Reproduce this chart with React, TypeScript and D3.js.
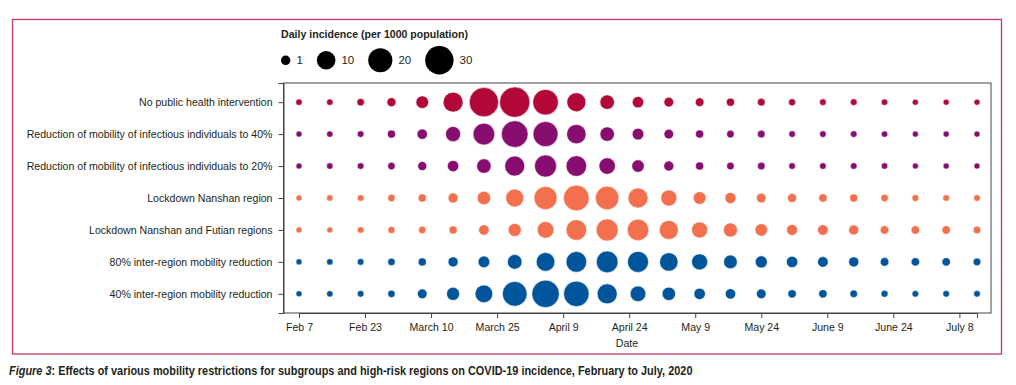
import React, { useEffect, useRef } from "react";
import * as d3 from "d3";

// scenario rows, top to bottom
const scenarios = [
  "No public health intervention",
  "Reduction of mobility of infectious individuals to 40%",
  "Reduction of mobility of infectious individuals to 20%",
  "Lockdown Nanshan region",
  "Lockdown Nanshan and Futian regions",
  "80% inter-region mobility reduction",
  "40% inter-region mobility reduction",
];

const scenarioColors = ["#B20838", "#870E6F", "#870E6F", "#F2704E", "#F2704E", "#00559B", "#00559B"];

// daily incidence per 1000, one value per week from Feb 7
const noIntervention = [0.08, 0.08, 0.27, 0.8, 3, 12, 32, 35, 23, 10.5, 4.7, 2.1, 1.1, 0.64, 0.44, 0.32, 0.18, 0.11, 0.11, 0.08, 0.04, 0.04, 0.04];
const mobility40 = [0.04, 0.08, 0.11, 0.44, 1.5, 5.4, 15, 25.5, 21.8, 11.2, 4.7, 2.3, 1.08, 0.44, 0.32, 0.32, 0.11, 0.11, 0.11, 0.08, 0.04, 0.04, 0.04];
const mobility20 = [0.04, 0.08, 0.11, 0.27, 0.8, 2.1, 4.7, 12.2, 15.7, 13.2, 7, 2.9, 1.28, 0.44, 0.32, 0.32, 0.11, 0.11, 0.11, 0.08, 0.04, 0.04, 0.04];
const lockdownNanshan = [0.04, 0.08, 0.11, 0.27, 0.44, 1.28, 3.7, 9.1, 17.7, 23.2, 18.5, 12.2, 6.5, 3.05, 1.87, 1.08, 0.8, 0.57, 0.44, 0.27, 0.14, 0.11, 0.11];
const lockdownNanshanFutian = [0.04, 0.04, 0.11, 0.2, 0.27, 0.44, 1.5, 3.4, 7.3, 13.2, 15.7, 14.6, 10.6, 6.5, 4.3, 2.9, 1.87, 1.6, 1.28, 0.64, 0.64, 0.57, 0.32];
const interRegion80 = [0.04, 0.08, 0.11, 0.27, 0.44, 1.28, 2.3, 4.9, 10, 13.2, 15, 13.9, 9.7, 6.5, 3.9, 2.6, 2.1, 1.6, 1.28, 0.64, 0.57, 0.57, 0.32];
const interRegion40 = [0.04, 0.08, 0.11, 0.27, 1.08, 3.4, 8.6, 21, 27.4, 22.7, 12.2, 6, 3.7, 2.1, 1.5, 1.08, 0.57, 0.57, 0.32, 0.18, 0.11, 0.11, 0.11];

const series = [noIntervention, mobility40, mobility20, lockdownNanshan, lockdownNanshanFutian, interRegion80, interRegion40];

// x axis ticks (days after Feb 7) and their labels
const tickDays = [0, 15, 30, 45, 60, 75, 90, 105, 120, 135, 150];
const tickLabels = ["Feb 7", "Feb 23", "March 10", "March 25", "April 9", "April 24", "May 9", "May 24", "June 9", "June 24", "July 8"];

const legendValues = [1, 10, 20, 30];

const FONT = "'Liberation Sans', Arial, sans-serif";
const TEXT = "#231F20";
const SQUEEZE = 0.92; // the journal font is narrower than Arial

// squeeze text horizontally so it matches the narrow journal font
function condense(sel: any, k = SQUEEZE) {
  sel.each(function (this: SVGTextElement) {
    const w = this.getComputedTextLength();
    d3.select(this).attr("textLength", w * k).attr("lengthAdjust", "spacingAndGlyphs");
  });
}

export default function App() {
  const svgRef = useRef<SVGSVGElement>(null);

  useEffect(() => {
    const width = 1016;
    const height = 385;
    const plot = { left: 283.5, right: 991, top: 83, bottom: 313 };

    const svg = d3.select(svgRef.current).attr("width", width).attr("height", height);
    svg.selectAll("*").remove();

    // outer figure frame
    svg
      .append("rect")
      .attr("x", 12.5)
      .attr("y", 19.5)
      .attr("width", 989)
      .attr("height", 334.5)
      .attr("fill", "none")
      .attr("stroke", "#C23A62")
      .attr("stroke-width", 1.3);

    const x = d3.scaleLinear().domain([0, 154]).range([299, 977]);
    const y = d3.scalePoint<string>().domain(scenarios).range([plot.top, plot.bottom]).padding(0.6);
    const r = d3.scaleSqrt().domain([0, 30]).range([2.6, 14.2]);

    // plot box
    svg
      .append("rect")
      .attr("x", plot.left)
      .attr("y", plot.top)
      .attr("width", plot.right - plot.left)
      .attr("height", plot.bottom - plot.top)
      .attr("fill", "none")
      .attr("stroke", "#444")
      .attr("stroke-width", 1);

    // y axis
    const yAxis = svg
      .append("g")
      .attr("transform", `translate(${plot.left},0)`)
      .call(d3.axisLeft(y).tickSize(5).tickPadding(6));
    yAxis.select(".domain").attr("stroke", "#444");
    yAxis.selectAll("line").attr("stroke", "#444");
    yAxis
      .selectAll("text")
      .attr("font-family", FONT)
      .attr("font-size", 11.5)
      .attr("fill", TEXT)
      .call(condense);

    // x axis
    const xAxis = svg
      .append("g")
      .attr("transform", `translate(0,${plot.bottom})`)
      .call(
        d3
          .axisBottom(x)
          .tickValues(tickDays)
          .tickFormat((d, i) => tickLabels[i])
          .tickSize(5)
          .tickPadding(5)
      );
    xAxis.select(".domain").attr("stroke", "#444");
    xAxis.selectAll("line").attr("stroke", "#444");
    xAxis
      .selectAll("text")
      .attr("font-family", FONT)
      .attr("font-size", 11.5)
      .attr("fill", TEXT)
      .call(condense);

    svg
      .append("text")
      .attr("x", 627)
      .attr("y", 347)
      .attr("text-anchor", "middle")
      .attr("font-family", FONT)
      .attr("font-size", 11.5)
      .attr("fill", TEXT)
      .text("Date")
      .call(condense);

    // bubbles
    scenarios.forEach((name, si) => {
      svg
        .append("g")
        .selectAll("circle")
        .data(series[si])
        .enter()
        .append("circle")
        .attr("cx", (d, i) => x(i * 7))
        .attr("cy", y(name) as number)
        .attr("r", (d) => r(d))
        .attr("fill", scenarioColors[si])
        .attr("stroke", "#fff")
        .attr("stroke-width", 0.5);
    });

    // legend
    const legend = svg.append("g");
    legend
      .append("text")
      .attr("x", 281)
      .attr("y", 38)
      .attr("font-family", FONT)
      .attr("font-size", 11.5)
      .attr("font-weight", "bold")
      .attr("fill", TEXT)
      .text("Daily incidence (per 1000 population)")
      .call(condense);

    let lx = 281;
    legendValues.forEach((v) => {
      const rad = r(v);
      const cx = lx + rad;
      legend.append("circle").attr("cx", cx).attr("cy", 60.3).attr("r", rad).attr("fill", "#000");
      const t = legend
        .append("text")
        .attr("x", cx + rad + 6)
        .attr("y", 64.3)
        .attr("font-family", FONT)
        .attr("font-size", 11.5)
        .attr("fill", TEXT)
        .text(String(v));
      const tw = (t.node() as SVGTextElement).getComputedTextLength();
      lx = cx + rad + 6 + tw + 14;
    });

    // caption: one text, italic "Figure 3" then the title, scaled to the reference width
    const cap = svg
      .append("text")
      .attr("x", 0)
      .attr("y", 0)
      .attr("font-family", FONT)
      .attr("font-size", 12.5)
      .attr("font-weight", "bold")
      .attr("fill", TEXT);
    cap.append("tspan").attr("font-style", "italic").text("Figure 3");
    cap.append("tspan").text(": Effects of various mobility restrictions for subgroups and high-risk regions on COVID-19 incidence, February to July, 2020");
    const capW = (cap.node() as SVGTextElement).getComputedTextLength();
    cap.attr("transform", `translate(9,374.5) scale(${684 / capW},1)`);
  }, []);

  return (
    <div style={{ position: "absolute", left: 0, top: 0 }}>
      <svg ref={svgRef} style={{ display: "block" }}></svg>
    </div>
  );
}
